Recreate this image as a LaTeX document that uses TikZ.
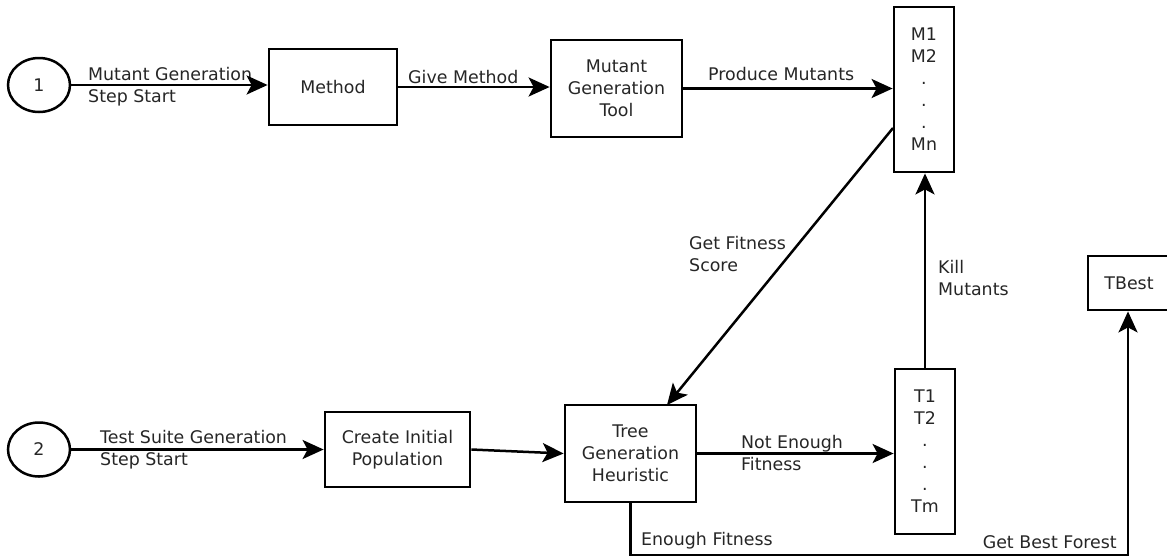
\documentclass[tikz,border=0pt]{standalone}
\usepackage{fontspec}
\setmainfont{DejaVu Sans}
\usetikzlibrary{arrows.meta,shapes.geometric}
\begin{document}
\begin{tikzpicture}[x=1pt,y=-1pt,
  font=\fontsize{17.4}{22}\selectfont,
  every node/.style={text=black!85},
  blk/.style={draw=black,line width=2.8pt,inner sep=0pt,align=center},
  startnode/.style={draw=black,ellipse,line width=2.5pt,minimum width=62pt,minimum height=54pt,inner sep=0pt},
  lbl/.style={inner sep=0pt,align=left},
  conn/.style={draw=black,line width=2.5pt,-{Stealth[length=21pt,width=19pt,inset=5pt]}},
  plain/.style={draw=black,line width=2.5pt}
]
\useasboundingbox (0,0) rectangle (1167,558);
% nodes
\node[startnode] (c1) at (39,85) {1};
\node[blk,minimum width=128pt,minimum height=76pt] (method) at (333,87) {Method};
\node[blk,minimum width=131pt,minimum height=97pt] (tool) at (616.5,88.5) {Mutant\\Generation\\Tool};
\node[blk,minimum width=60pt,minimum height=165pt] (mbox) at (924,89.5) {M1\\M2\\.\\.\\.\\Mn};
\node[blk,minimum width=82pt,minimum height=54pt] (tbest) at (1129,283) {TBest};
\node[startnode] (c2) at (39,449.5) {2};
\node[blk,minimum width=145pt,minimum height=75pt] (cip) at (397.5,449.5) {Create Initial\\Population};
\node[blk,minimum width=131pt,minimum height=97pt] (tree) at (630.5,453.5) {Tree\\Generation\\Heuristic};
\node[blk,minimum width=60pt,minimum height=165pt] (tbox) at (925,451.5) {T1\\T2\\.\\.\\.\\Tm};
% labels
\node[lbl,anchor=west] (l1) at (88,87) {Mutant Generation\\Step Start};
\node[lbl,anchor=west] (l2) at (408,77) {Give Method};
\node[lbl,anchor=west] (l3) at (708,74) {Produce Mutants};
\node[lbl,anchor=west] (l4) at (689,254.5) {Get Fitness\\Score};
\node[lbl,anchor=west] (l5) at (938,278) {Kill\\Mutants};
\node[lbl,anchor=west] (l6) at (100,450) {Test Suite Generation\\Step Start};
\node[lbl,anchor=west] (l7) at (741,453) {Not Enough\\Fitness};
\node[lbl,anchor=west] (l8) at (641,541) {Enough Fitness};
\node[lbl,anchor=east] (l9) at (1117,542) {Get Best Forest};
% connectors
\coordinate (gfs) at (893,128);
\coordinate (gfe) at (667,405);
\coordinate (bot) at (630.5,555);
\draw[conn] (c1) -- (c1 -| method.west);
\draw[conn] (method.east) -- (method.east -| tool.west);
\draw[conn] (tool.east) -- (tool.east -| mbox.west);
\draw[conn] (gfs) -- (gfe);
\draw[conn] (tbox.north) -- (tbox.north |- mbox.south);
\draw[conn] (c2) -- (c2 -| cip.west);
\draw[conn] (cip.east) -- (tree.west);
\draw[conn] (tree.east) -- (tree.east -| tbox.west);
\draw[conn] (tree.south) -- (bot) -| ([xshift=-1pt]tbest.south);
\end{tikzpicture}
\end{document}
